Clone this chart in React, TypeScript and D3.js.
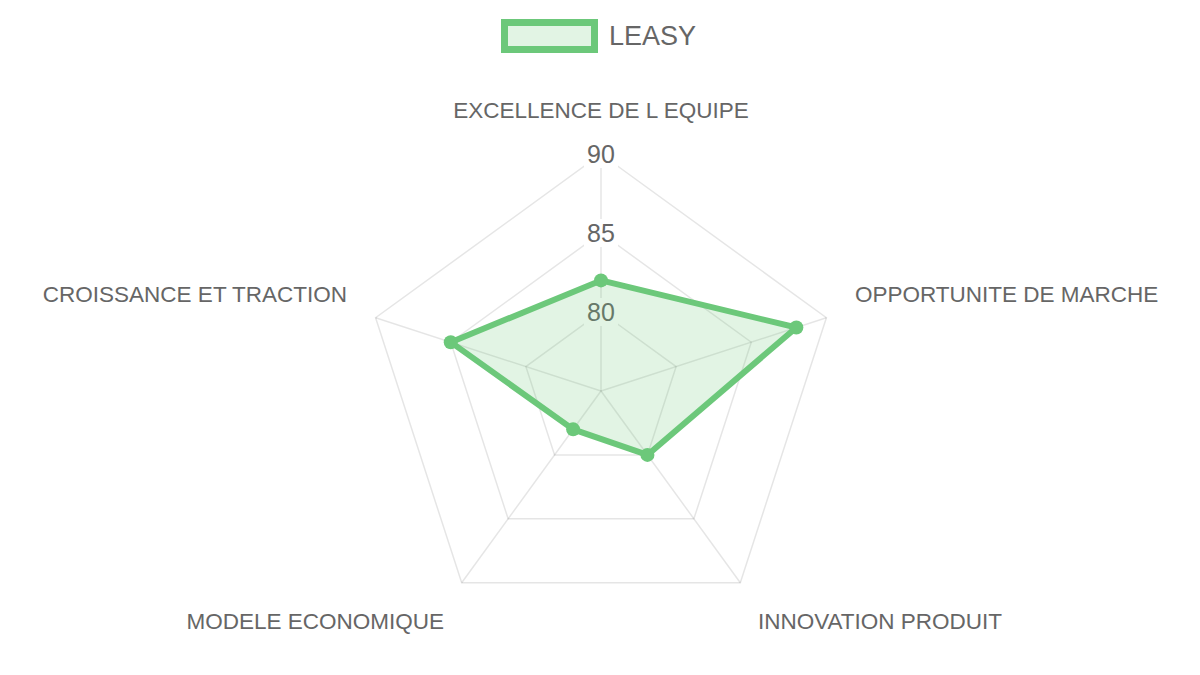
import React, { useEffect, useRef } from 'react'
import * as d3 from 'd3'

const labels = ['EXCELLENCE DE L EQUIPE', 'OPPORTUNITE DE MARCHE', 'INNOVATION PRODUIT', 'MODELE ECONOMIQUE', 'CROISSANCE ET TRACTION']
const seriesName = 'LEASY'
const values = [82, 88, 80, 78, 85]
const ticks = [80, 85, 90]
const scaleMin = 75
const scaleMax = 90

export default function App() {
    const ref = useRef<SVGSVGElement>(null)

    let width = 1200, height = 675
    let cx = 601, cy = 391, radius = 237
    let green = 'rgb(108, 200, 122)'
    let font = '"Liberation Sans", Arial, Helvetica, sans-serif'

    useEffect(() => {
        const svg = d3.select(ref.current)
        svg.selectAll('*').remove()

        const r = d3.scaleLinear().domain([scaleMin, scaleMax]).range([0, radius])
        const angle = d3.scaleLinear().domain([0, labels.length]).range([0, 2 * Math.PI])

        const pos = (i: number, dist: number): [number, number] =>
            [cx + dist * Math.sin(angle(i)), cy - dist * Math.cos(angle(i))]

        const g = svg.append('g')

        // rings
        ticks.forEach(function (t) {
            g.append('polygon')
                .attr('points', labels.map((d, i) => pos(i, r(t)).join(',')).join(' '))
                .attr('fill', 'none')
                .attr('stroke', 'rgba(0,0,0,0.1)')
                .attr('stroke-width', 1.5)
        })

        // spokes
        g.selectAll('line.spoke')
            .data(labels)
            .enter()
            .append('line')
            .attr('x1', cx)
            .attr('y1', cy)
            .attr('x2', (d, i) => pos(i, radius)[0])
            .attr('y2', (d, i) => pos(i, radius)[1])
            .attr('stroke', 'rgba(0,0,0,0.1)')
            .attr('stroke-width', 1.5)

        // tick labels with white backdrop
        ticks.forEach(function (t) {
            const y = cy - r(t)
            g.append('rect')
                .attr('x', cx - 17)
                .attr('y', y - 14)
                .attr('width', 34)
                .attr('height', 28)
                .attr('fill', 'white')
            g.append('text')
                .attr('x', cx)
                .attr('y', y)
                .attr('text-anchor', 'middle')
                .attr('dominant-baseline', 'central')
                .style('font-family', font)
                .style('font-size', '25px')
                .attr('fill', '#666')
                .text(t)
        })

        // point labels
        const labelDist = 267, h = 28
        labels.forEach(function (d, i) {
            const deg = angle(i) * 180 / Math.PI
            const p = pos(i, labelDist)
            let anchor = 'middle'
            if (Math.abs(deg) > 1 && Math.abs(deg - 180) > 1) anchor = deg < 180 ? 'start' : 'end'
            let yMid = p[1] + h / 2
            if (deg < 90 || deg > 270) yMid = p[1] - h / 2
            g.append('text')
                .attr('x', p[0])
                .attr('y', yMid)
                .attr('text-anchor', anchor)
                .attr('dominant-baseline', 'central')
                .style('font-family', font)
                .style('font-size', '22.5px')
                .attr('fill', '#666')
                .text(d)
        })

        // data polygon
        const line = d3.lineRadial<number>()
            .angle((d, i) => angle(i))
            .radius(d => r(d))
            .curve(d3.curveLinearClosed)

        g.append('path')
            .datum(values)
            .attr('transform', 'translate(' + cx + ',' + cy + ')')
            .attr('d', line)
            .attr('fill', 'rgba(108, 200, 122, 0.2)')
            .attr('stroke', green)
            .attr('stroke-width', 6)
            .attr('stroke-linejoin', 'round')

        g.selectAll('circle.pt')
            .data(values)
            .enter()
            .append('circle')
            .attr('cx', (d, i) => pos(i, r(d))[0])
            .attr('cy', (d, i) => pos(i, r(d))[1])
            .attr('r', 7)
            .attr('fill', green)

        // legend
        const legend = svg.append('g')
        legend.append('rect')
            .attr('x', 504.5)
            .attr('y', 22.5)
            .attr('width', 90)
            .attr('height', 27)
            .attr('fill', 'rgba(108, 200, 122, 0.2)')
            .attr('stroke', green)
            .attr('stroke-width', 7)
        legend.append('text')
            .attr('x', 609)
            .attr('y', 36)
            .attr('dominant-baseline', 'central')
            .style('font-family', font)
            .style('font-size', '27px')
            .attr('fill', '#666')
            .text(seriesName)
    }, [])

    return (
        <svg ref={ref} width={width} height={height}
            style={{ position: 'absolute', left: 0, top: 0, background: 'white' }} />
    )
}
